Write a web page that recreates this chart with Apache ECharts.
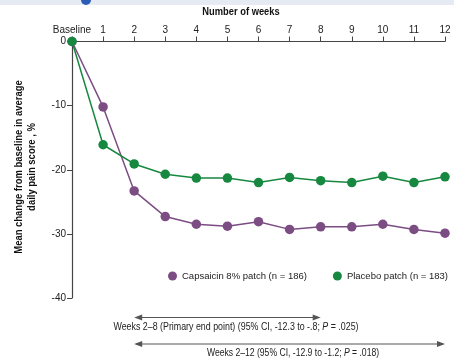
<!DOCTYPE html>
<html><head><meta charset="utf-8">
<script src="https://cdn.jsdelivr.net/npm/echarts@6/dist/echarts.min.js"></script>
<style>html,body{margin:0;padding:0;background:#fff}#c{width:454px;height:362px}</style>
</head><body><div id="c"></div>
<script>
var categories = ['Baseline','1','2','3','4','5','6','7','8','9','10','11','12'];
var capsaicin = [0,-10.2,-23.3,-27.3,-28.5,-28.8,-28.1,-29.3,-28.9,-28.9,-28.5,-29.3,-29.9];
var placebo = [0,-16.1,-19.1,-20.7,-21.3,-21.3,-22.0,-21.2,-21.7,-22.0,-21.0,-22.0,-21.1];
var yTicks = {min:-40, max:0, interval:10};
var seriesNames = ['Capsaicin 8% patch (n = 186)','Placebo patch (n = 183)'];
var xTitle = 'Number of weeks';
var yTitle = 'Mean change from baseline in average\ndaily pain score , %';
var FONT = '"Liberation Sans", Arial, sans-serif';
var PURPLE = '#7b4d83', GREEN = '#17883f';
var chart = echarts.init(document.getElementById('c'), null, {renderer:'canvas'});
chart.setOption({
  animation:false,
  textStyle:{fontFamily:FONT},
  grid:{left:72, right:9, top:41.5, bottom:64},
  legend:{left:163, top:266, itemWidth:9, itemHeight:9, itemGap:26, icon:'circle', width:300,
    textStyle:{fontFamily:FONT, fontSize:9.5, color:'#222'}, data:seriesNames},
  xAxis:{type:'category', position:'top', boundaryGap:false, data:categories,
    axisLine:{lineStyle:{color:'#444', width:1.2}},
    axisTick:{inside:false, length:5, interval:0, lineStyle:{color:'#444'}},
    axisLabel:{fontFamily:FONT, fontSize:10, color:'#222', margin:6, interval:0},
    splitLine:{show:false}},
  yAxis:{type:'value', min:yTicks.min, max:yTicks.max, interval:yTicks.interval,
    axisLine:{show:true, lineStyle:{color:'#444', width:1.2}},
    axisTick:{show:true, length:5, lineStyle:{color:'#444'}},
    axisLabel:{fontFamily:FONT, fontSize:10, color:'#222', margin:6},
    splitLine:{show:false}},
  series:[
    {name:seriesNames[0], type:'line', data:capsaicin, symbol:'circle', symbolSize:9.5,
      itemStyle:{color:PURPLE}, lineStyle:{color:PURPLE, width:1.5}, z:2},
    {name:seriesNames[1], type:'line', data:placebo, symbol:'circle', symbolSize:9.5,
      itemStyle:{color:GREEN}, lineStyle:{color:GREEN, width:1.5}, z:3}
  ]
});
function arrow(x1, x2, y){
  var c = '#555', L = 8, H = 3;
  return [
    {type:'line', shape:{x1:x1+2, y1:y, x2:x2-2, y2:y}, style:{stroke:c, lineWidth:1}},
    {type:'polygon', shape:{points:[[x1,y],[x1+L,y-H],[x1+L,y+H]]}, style:{fill:c}},
    {type:'polygon', shape:{points:[[x2,y],[x2-L,y-H],[x2-L,y+H]]}, style:{fill:c}}
  ];
}
var px2 = chart.convertToPixel({xAxisIndex:0}, 2);
var px8 = chart.convertToPixel({xAxisIndex:0}, 8);
var px12 = chart.convertToPixel({xAxisIndex:0}, 12);
var g = [
  {type:'rect', shape:{x:0, y:0, width:454, height:5}, style:{fill:'#e6eaf3'}, silent:true},
  {type:'circle', shape:{cx:86, cy:0, r:5}, style:{fill:'#2a5cb8'}},
  {type:'rect', shape:{x:80, y:-6, width:12, height:5}, style:{fill:'#e6eaf3'}}
];
g = g.concat(arrow(px2, px8, 317.5), arrow(px2, px12, 344));
var rich = {i:{fontStyle:'italic', fontFamily:FONT, fontSize:10, fill:'#222'}};
g.push({type:'text', x:236, y:327, scaleX:0.885, style:{text:'Weeks 2\u20138 (Primary end point) (95% CI, -12.3 to -.8; {i|P} = .025)', rich:rich,
  font:'10px ' + FONT, fill:'#222', textAlign:'center', textVerticalAlign:'middle'}});
g.push({type:'text', x:293, y:353, scaleX:0.86, style:{text:'Weeks 2\u201312 (95% CI, -12.9 to -1.2; {i|P} = .018)', rich:rich,
  font:'10px ' + FONT, fill:'#222', textAlign:'center', textVerticalAlign:'middle'}});
g.push({type:'text', x:241, y:12, scaleX:0.85, style:{text:xTitle,
  font:'bold 11px ' + FONT, fill:'#111', textAlign:'center', textVerticalAlign:'middle'}});
g.push({type:'text', x:25.5, y:167, rotation:Math.PI/2, scaleX:0.86, style:{text:yTitle,
  font:'bold 11px ' + FONT, fill:'#111', textAlign:'center', textVerticalAlign:'middle', lineHeight:13}});
chart.setOption({graphic:g});
</script></body></html>
